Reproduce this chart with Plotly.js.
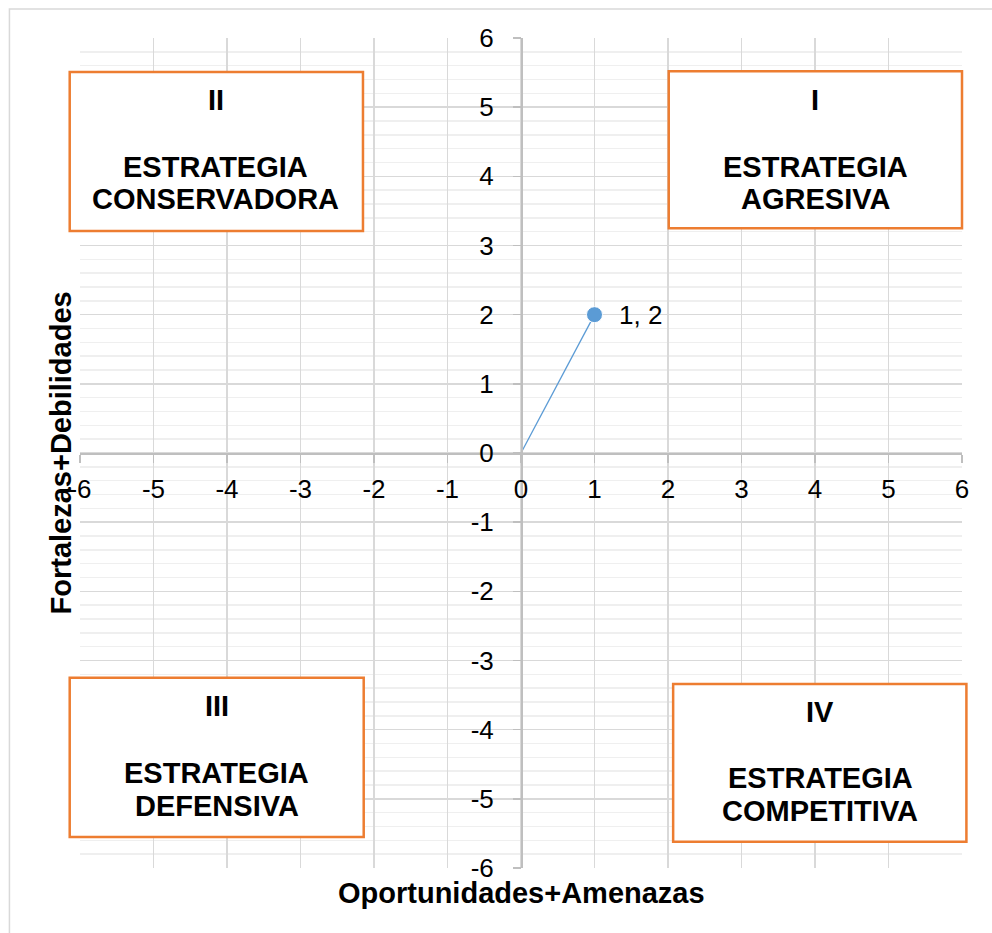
<!DOCTYPE html>
<html>
<head>
<meta charset="utf-8">
<script src="https://cdn.plot.ly/plotly-3.0.1.min.js"></script>
<style>
  body { margin: 0; background: #fff; }
  #plot { width: 992px; height: 933px; }
</style>
</head>
<body>
<div id="plot"></div>
<script>
// Matriz PEYEA: vector resultante
const xValues = [0, 1];
const yValues = [0, 2];
const pointLabel = "1, 2";

// Ticks (hyphen minus, as in the original)
const tickValues = [-6, -5, -4, -3, -2, -1, 0, 1, 2, 3, 4, 5, 6];
const tickLabels = ["-6", "-5", "-4", "-3", "-2", "-1", "0", "1", "2", "3", "4", "5", "6"];

// Cuadrantes
const quadNumerals = ["I", "II", "III", "IV"];
const quadLine1 = ["ESTRATEGIA", "ESTRATEGIA", "ESTRATEGIA", "ESTRATEGIA"];
const quadLine2 = ["AGRESIVA", "CONSERVADORA", "DEFENSIVA", "COMPETITIVA"];

const xTitle = "Oportunidades+Amenazas";
const yTitle = "Fortalezas+Debilidades";

const font = "Liberation Sans, Arial, sans-serif";
const orange = "#ED7D31";
const blue = "#5B9BD5";

// box extents in axis units, and text centres
const boxes = [
    {x0: 2.01, x1: 6.0, y0: 3.25, y1: 5.52, cx: 4.0, ny: 5.10, l1: 4.13, l2: 3.67},
    {x0: -6.14, x1: -2.15, y0: 3.21, y1: 5.51, cx: -4.15, ny: 5.10, l1: 4.13, l2: 3.67},
    {x0: -6.14, x1: -2.14, y0: -5.55, y1: -3.25, cx: -4.14, ny: -3.66, l1: -4.63, l2: -5.1},
    {x0: 2.07, x1: 6.06, y0: -5.62, y1: -3.34, cx: 4.07, ny: -3.74, l1: -4.7, l2: -5.17}
];

const toPaper = v => (v + 6) / 12;

let shapes = [
    // outer chart border
    {type: "rect", xref: "paper", yref: "paper", x0: -0.080, x1: 1.05, y0: -0.088, y1: 1.035,
     line: {color: "#d9d9d9", width: 1.5}, fillcolor: "rgba(0,0,0,0)", layer: "below"}
];
let annotations = [];

boxes.forEach((b, i) => {
    shapes.push({
        type: "rect", xref: "paper", yref: "paper",
        x0: toPaper(b.x0), x1: toPaper(b.x1), y0: toPaper(b.y0), y1: toPaper(b.y1),
        line: {color: orange, width: 2.5}, fillcolor: "#ffffff", layer: "above"
    });
    [[quadNumerals[i], b.ny], [quadLine1[i], b.l1], [quadLine2[i], b.l2]].forEach(([t, y]) => {
        annotations.push({
            x: b.cx, y: y, xref: "x", yref: "y", text: "<b>" + t + "</b>",
            showarrow: false, xanchor: "center", yanchor: "middle",
            font: {family: font, size: 29, color: "#000"}
        });
    });
});

// point label
annotations.push({
    x: xValues[1], y: yValues[1], xref: "x", yref: "y", text: pointLabel,
    showarrow: false, xanchor: "left", yanchor: "middle", xshift: 22,
    font: {family: font, size: 26, color: "#000"}
});

annotations.push({
    x: 0.5, y: -0.03, xref: "paper", yref: "paper", text: "<b>" + xTitle + "</b>",
    showarrow: false, xanchor: "center", yanchor: "middle",
    font: {family: font, size: 29, color: "#000"}
});
annotations.push({
    x: -0.021, y: 0.5, xref: "paper", yref: "paper", text: "<b>" + yTitle + "</b>",
    showarrow: false, xanchor: "center", yanchor: "middle", textangle: -90,
    font: {family: font, size: 29, color: "#000"}
});

let trace = {
    x: xValues,
    y: yValues,
    mode: "lines+markers",
    line: {color: blue, width: 1.3},
    marker: {color: blue, size: [0, 16], opacity: 1},
    hoverinfo: "none",
    cliponaxis: false
};

let axisCommon = {
    range: [-6, 6],
    tickmode: "array",
    tickvals: tickValues,
    ticktext: tickLabels,
    showgrid: true,
    gridcolor: "#d9d9d9",
    gridwidth: 1.5,
    zeroline: false,
    showline: true,
    linecolor: "#bfbfbf",
    linewidth: 1.5,
    ticks: "outside",
    ticklen: 8,
    tickcolor: "#bfbfbf",
    tickwidth: 1.5,
    tickfont: {family: font, size: 26, color: "#000"},
    anchor: "free",
    position: 0.5,
    fixedrange: true
};

let layout = {
    width: 992,
    height: 933,
    margin: {l: 80, r: 30, t: 38, b: 65},
    paper_bgcolor: "#ffffff",
    plot_bgcolor: "#ffffff",
    showlegend: false,
    xaxis: Object.assign({}, axisCommon, {ticklabelstandoff: 4}),
    yaxis: Object.assign({}, axisCommon, {
        ticklabelstandoff: 14,
        minor: {dtick: 0.2, showgrid: true, gridcolor: "#efefef", gridwidth: 1.5}
    }),
    shapes: shapes,
    annotations: annotations
};

Plotly.newPlot("plot", [trace], layout, {displayModeBar: false, staticPlot: true});
</script>
</body>
</html>
